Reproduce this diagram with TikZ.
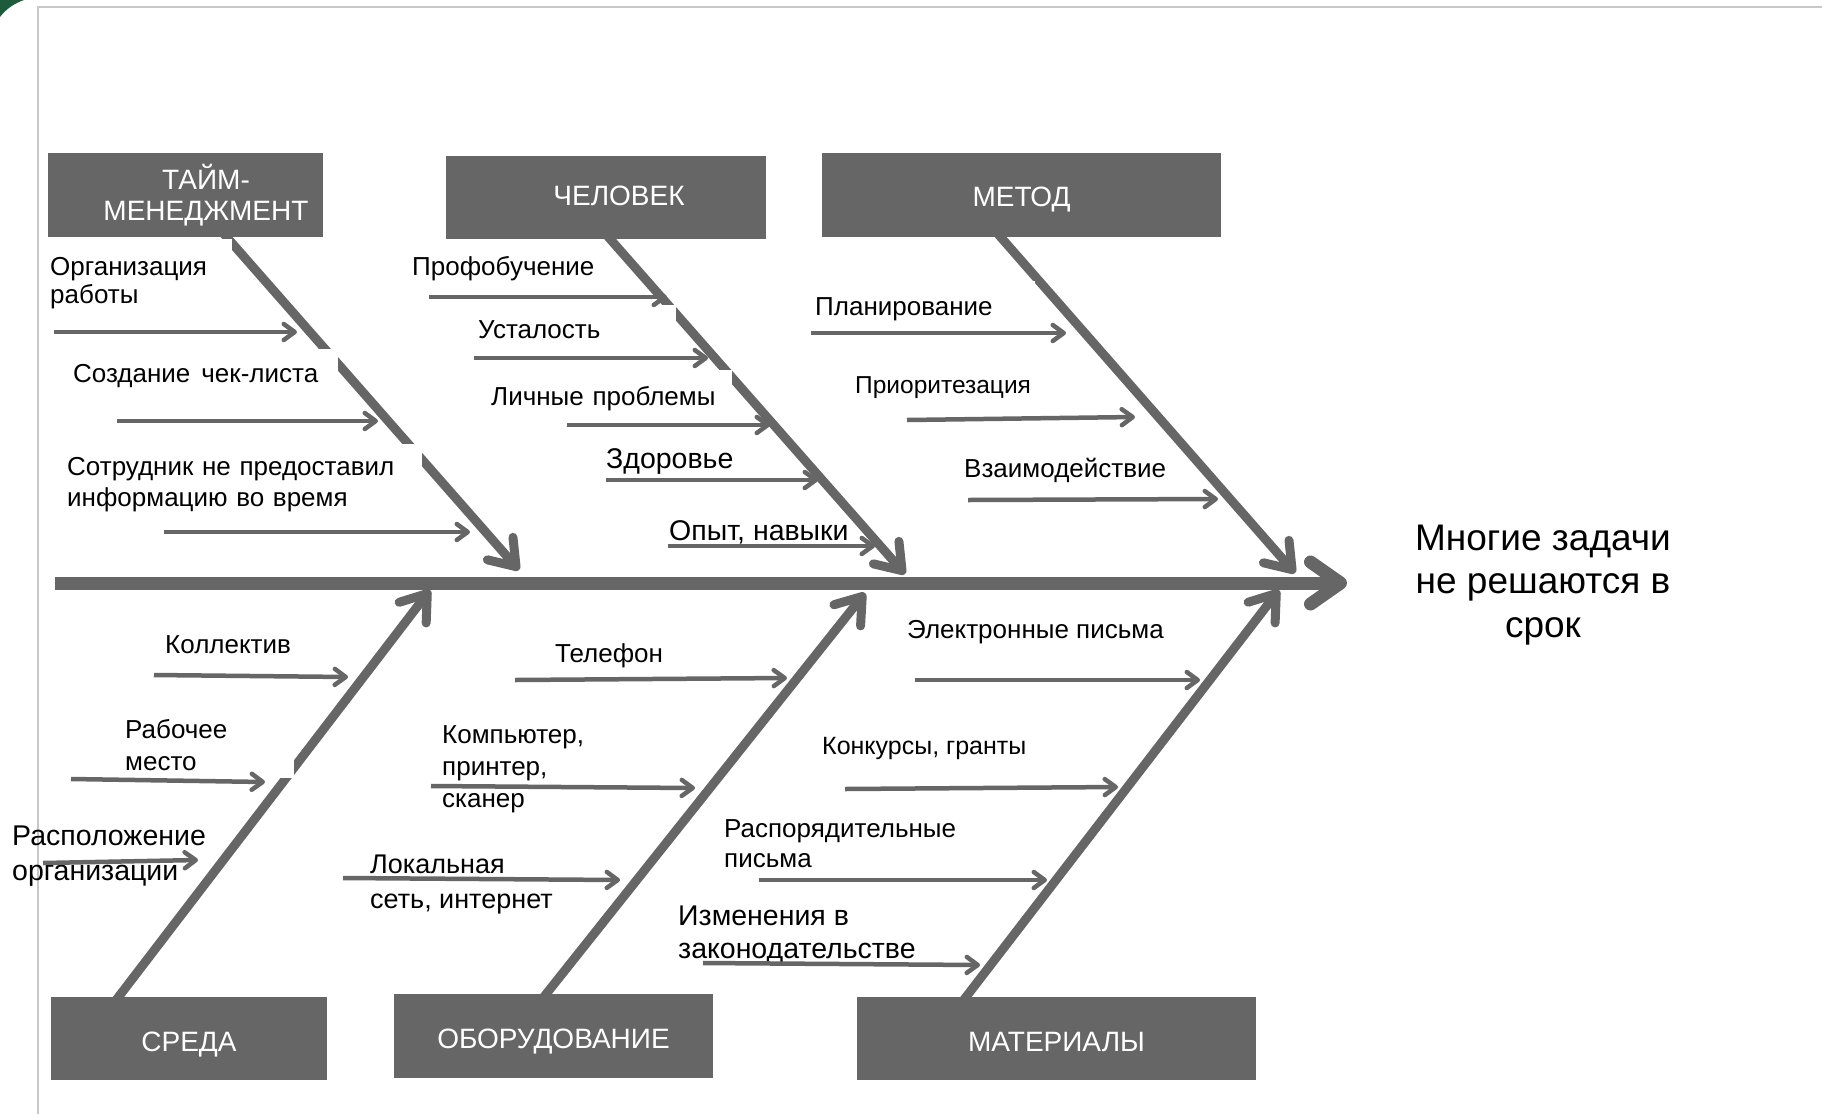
\documentclass[tikz,border=0pt]{standalone}
\usepackage{fontspec}
\setmainfont{Liberation Sans}
\usetikzlibrary{arrows.meta,backgrounds}
\definecolor{bonegray}{HTML}{666666}
\definecolor{framegray}{HTML}{C8C8C8}
\definecolor{cornergreen}{HTML}{1E5A3C}
\begin{document}
\begin{tikzpicture}[x=1pt,y=-1pt,
  catbox/.style={rectangle,fill=bonegray,text=white,inner sep=0pt,
    font=\fontsize{28}{31}\selectfont,align=center},
  captext/.style={text height=20pt,text depth=0pt},
  bone/.style={draw=bonegray,line width=9pt,
    -{Straight Barb[length=24pt,width=34pt,round]}},
  spineline/.style={draw=bonegray,line width=13pt,
    -{Straight Barb[length=30pt,width=42pt,round]}},
  cause/.style={draw=bonegray,line width=4.5pt,
    -{Straight Barb[length=11pt,width=16pt,round]}},
  lbl/.style={inner sep=0pt,anchor=base west,align=left,
    font=\fontsize{26}{31}\selectfont},
  mask/.style={fill=white,inner xsep=0pt},
  big/.style={font=\fontsize{28.5}{33}\selectfont},
]
\useasboundingbox (0,0) rectangle (1822,1114);

% category boxes
\node[catbox,minimum width=275pt,minimum height=84pt] (tm) at (185.5,195)
  {\hspace*{41pt}ТАЙМ-\\\hspace*{41pt}МЕНЕДЖМЕНТ};
\node[catbox,captext,minimum width=320pt,minimum height=83pt] (hu) at (606,197.5)
  {\hspace*{26pt}\raisebox{2.5pt}{ЧЕЛОВЕК}};
\node[catbox,captext,minimum width=399pt,minimum height=84pt] (me) at (1021.5,195)
  {\raisebox{-1pt}{МЕТОД}};
\node[catbox,captext,minimum width=276pt,minimum height=83pt] (sr) at (189,1038.5)
  {\raisebox{-2.5pt}{СРЕДА}};
\node[catbox,captext,minimum width=319pt,minimum height=84pt] (ob) at (553.5,1036)
  {\raisebox{-2pt}{ОБОРУДОВАНИЕ}};
\node[catbox,captext,minimum width=399pt,minimum height=83pt] (ma) at (1056.5,1038.5)
  {\raisebox{-2.5pt}{МАТЕРИАЛЫ}};

% effect (anchor = baseline of the last line)
\node[font=\fontsize{37}{43.5}\selectfont,align=center,anchor=base,inner sep=0pt]
  (eff) at (1543,637) {Многие задачи\\не решаются в\\срок};

% tips on the spine
\coordinate (sp0) at (55,583);
\coordinate (sp1) at (1347,583);
\coordinate (tTM) at (519,570);
\coordinate (tHU) at (905,574);
\coordinate (tME) at (1295,573);
\coordinate (tSR) at (430,590);
\coordinate (tOB) at (865,593);
\coordinate (tMA) at (1279,590);

\begin{pgfonlayer}{background}
\draw[framegray,line width=2pt] (38,1114) -- (38,7) -- (1822,7);
\fill[cornergreen] (0,0) -- (24,0) .. controls (15,3) and (6,9) .. (0,17) -- cycle;
\draw[spineline] (sp0) -- (sp1);
\draw[bone] ([xshift=36pt,yshift=6pt]tm.south) -- (tTM);
\draw[bone] ([xshift=-1pt,yshift=6pt]hu.south) -- (tHU);
\draw[bone] ([xshift=-26pt,yshift=6pt]me.south) -- (tME);
\draw[bone] ([xshift=-75pt,yshift=-6pt]sr.north) -- (tSR);
\draw[bone] ([xshift=-12pt,yshift=-6pt]ob.north) -- (tOB);
\draw[bone] ([xshift=-95pt,yshift=-6pt]ma.north) -- (tMA);
\end{pgfonlayer}

% labels (masked ones: anchor = first baseline; plain multi-line: last baseline)
\node[lbl,mask,text width=181.7pt,inner ysep=17.7pt,font=\fontsize{26}{28}\selectfont]
  (l1) at (50,275) {Организация\\работы};
\node[lbl,mask,text width=265pt,inner ysep=14.7pt] (l2) at (73,382)
  {Создание\hspace{11pt}чек-листа};
\node[lbl,mask,text width=354.7pt,inner ysep=12.4pt,font=\fontsize{26}{31.7}\selectfont]
  (l3) at (67,475) {Сотрудник не предоставил\\информацию во время};
\node[lbl] (l4) at (412,275) {Профобучение};
\node[lbl,mask,text width=198pt,inner ysep=15.4pt] (l5) at (478,338) {Усталость};
\node[lbl,mask,text width=240.7pt,inner ysep=15.5pt] (l6) at (491,405) {Личные проблемы};
\node[lbl,big] (l7) at (606,468) {Здоровье};
\node[lbl,big] (l8) at (669,540) {Опыт, навыки};
\node[lbl,mask,text width=220pt,inner ysep=16.4pt] (l9) at (815,315) {Планирование};
\node[lbl,font=\fontsize{24.5}{30}\selectfont] (l10) at (855,393) {Приоритезация};
\node[lbl] (l11) at (964,477) {Взаимодействие};
\node[lbl] (l12) at (165,653) {Коллектив};
\node[lbl,mask,text width=168.3pt,inner ysep=7.6pt,font=\fontsize{26}{32.4}\selectfont]
  (l13) at (125,738) {Рабочее\\место};
\node[lbl,font=\fontsize{28.5}{35}\selectfont] (l14) at (12,880) {Расположение\\организации};
\node[lbl] (l15) at (555,662) {Телефон};
\node[lbl,font=\fontsize{26}{32}\selectfont] (l16) at (442,807) {Компьютер,\\принтер,\\сканер};
\node[lbl,font=\fontsize{27}{35}\selectfont] (l17) at (370,908) {Локальная\\сеть, интернет};
\node[lbl] (l18) at (907,638) {Электронные письма};
\node[lbl,font=\fontsize{25}{30}\selectfont] (l19) at (822,754) {Конкурсы, гранты};
\node[lbl,font=\fontsize{26}{30}\selectfont] (l20) at (724,867) {Распорядительные\\письма};
\node[lbl,font=\fontsize{28.5}{33}\selectfont] (l21) at (678,958) {Изменения в\\законодательстве};

% cause arrows
\draw[cause] (54,332) coordinate (c1a) -- (297,332) coordinate (c1b);
\draw[cause] (117,421) coordinate (c2a) -- (378,421) coordinate (c2b);
\draw[cause] (164,532) coordinate (c3a) -- (470,532) coordinate (c3b);
\draw[cause] (429,297) coordinate (c4a) -- (667,297) coordinate (c4b);
\draw[cause] (474,358) coordinate (c5a) -- (708,358) coordinate (c5b);
\draw[cause] (567,425) coordinate (c6a) -- (770,425) coordinate (c6b);
\draw[cause] (606,480) coordinate (c7a) -- (818,480) coordinate (c7b);
\draw[cause] (668,546) coordinate (c8a) -- (875,546) coordinate (c8b);
\draw[cause] (811,333) coordinate (c9a) -- (1066,333) coordinate (c9b);
\draw[cause] (907,420) coordinate (c10a) -- (1135,417) coordinate (c10b);
\draw[cause] (968,500) coordinate (c11a) -- (1218,499) coordinate (c11b);
\draw[cause] (154,675) coordinate (c12a) -- (348,677) coordinate (c12b);
\draw[cause] (71,779) coordinate (c13a) -- (265,782) coordinate (c13b);
\draw[cause] (43,863) coordinate (c14a) -- (198,860) coordinate (c14b);
\draw[cause] (515,680) coordinate (c15a) -- (787,678) coordinate (c15b);
\draw[cause] (431,786) coordinate (c16a) -- (695,788) coordinate (c16b);
\draw[cause] (343,878) coordinate (c17a) -- (620,880) coordinate (c17b);
\draw[cause] (915,680) coordinate (c18a) -- (1200,680) coordinate (c18b);
\draw[cause] (845,789) coordinate (c19a) -- (1118,787) coordinate (c19b);
\draw[cause] (759,880) coordinate (c20a) -- (1047,880) coordinate (c20b);
\draw[cause] (703,963) coordinate (c21a) -- (980,965) coordinate (c21b);
\end{tikzpicture}
\end{document}
